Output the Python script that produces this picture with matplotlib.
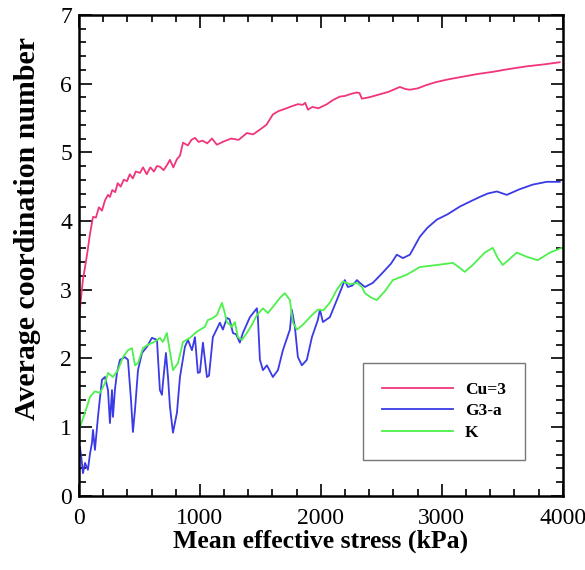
import numpy as np
import matplotlib.pyplot as plt
from matplotlib.ticker import MultipleLocator

# Cu=3 (pink)
cu_x = [0, 15, 33, 50, 70, 90, 116, 140, 165, 190, 215, 240, 256, 275, 300, 320, 345, 370, 397,
        420, 445, 470, 504, 530, 560, 590, 620, 645, 669, 700, 730, 752, 780, 810, 835, 860,
        900, 930, 959, 990, 1020, 1060, 1100, 1140, 1200, 1260, 1320, 1388, 1440, 1496, 1550,
        1603, 1650, 1700, 1760, 1810, 1851, 1870, 1893, 1930, 1980, 2050, 2100, 2157, 2200,
        2250, 2298, 2320, 2339, 2400, 2480, 2560, 2653, 2700, 2736, 2800, 2876, 2950, 3050,
        3174, 3300, 3421, 3550, 3700, 3850, 3975]
cu_y = [2.55, 2.85, 3.15, 3.33, 3.55, 3.8, 4.06, 4.05, 4.2, 4.15, 4.3, 4.38, 4.35, 4.45, 4.42,
        4.55, 4.5, 4.6, 4.58, 4.68, 4.62, 4.72, 4.7, 4.78, 4.68, 4.78, 4.72, 4.8, 4.79, 4.74,
        4.82, 4.89, 4.78, 4.9, 4.95, 5.14, 5.1, 5.18, 5.21, 5.15, 5.17, 5.13, 5.2, 5.11, 5.16,
        5.2, 5.18, 5.28, 5.26, 5.33, 5.4, 5.55, 5.6, 5.63, 5.67, 5.7, 5.69, 5.72, 5.62, 5.66,
        5.64, 5.7, 5.76, 5.81, 5.82, 5.85, 5.87, 5.86, 5.78, 5.8, 5.84, 5.88, 5.95, 5.92, 5.91,
        5.93, 5.98, 6.02, 6.06, 6.1, 6.14, 6.17, 6.21, 6.25, 6.28, 6.31]

# G3-a (blue)
g3_x = [8, 20, 33, 50, 74, 90, 107, 116, 132, 157, 175, 190, 215, 240, 256, 273, 281, 297, 314,
        339, 380, 405, 430, 446, 463, 488, 521, 562, 603, 645, 653, 669, 686, 694, 719, 736,
        752, 777, 810, 835, 876, 901, 934, 959, 983, 1000, 1025, 1058, 1075, 1107, 1165, 1190,
        1223, 1245, 1273, 1300, 1330, 1355, 1413, 1471, 1479, 1496, 1521, 1554, 1603, 1645,
        1686, 1744, 1760, 1785, 1810, 1843, 1884, 1926, 1975, 1992, 2017, 2074, 2132, 2198,
        2223, 2260, 2298, 2322, 2364, 2430, 2512, 2580, 2628, 2678, 2736, 2818, 2880, 2959,
        3050, 3149, 3230, 3314, 3380, 3455, 3537, 3640, 3752, 3868, 3975]
g3_y = [0.71, 0.55, 0.33, 0.48, 0.38, 0.6, 0.77, 0.96, 0.67, 1.15, 1.45, 1.69, 1.73, 1.54, 1.06,
        1.54, 1.15, 1.54, 1.79, 1.98, 2.02, 1.98, 1.4, 0.93, 1.25, 1.83, 2.08, 2.17, 2.3, 2.27,
        2.02, 1.54, 1.47, 1.64, 2.08, 1.73, 1.3, 0.92, 1.21, 1.73, 2.17, 2.27, 2.12, 2.31, 1.79,
        1.8, 2.23, 1.73, 1.75, 2.31, 2.52, 2.42, 2.59, 2.57, 2.37, 2.35, 2.23, 2.37, 2.6, 2.73,
        2.6, 1.98, 1.83, 1.9, 1.73, 1.83, 2.12, 2.42, 2.71, 2.46, 2.02, 1.9, 1.98, 2.31, 2.56,
        2.71, 2.53, 2.6, 2.85, 3.14, 3.04, 3.06, 3.14, 3.1, 3.04, 3.1, 3.25, 3.38, 3.51, 3.46,
        3.51, 3.77, 3.9, 4.02, 4.1, 4.21, 4.28, 4.35, 4.4, 4.43, 4.38, 4.46, 4.53, 4.57, 4.57]

# K (green)
k_x = [8, 50, 91, 130, 174, 215, 240, 281, 322, 364, 405, 438, 463, 488, 529, 570, 611, 640, 669,
       694, 727, 752, 777, 818, 860, 917, 975, 1041, 1066, 1100, 1140, 1182, 1200, 1223, 1264,
       1289, 1314, 1347, 1388, 1430, 1471, 1521, 1562, 1603, 1661, 1702, 1744, 1769, 1802, 1851,
       1926, 1975, 2020, 2074, 2132, 2182, 2240, 2298, 2339, 2364, 2421, 2463, 2530, 2595, 2711,
       2818, 2959, 3091, 3132, 3190, 3256, 3355, 3421, 3463, 3504, 3620, 3702, 3793, 3893, 3992]
k_y = [1.0, 1.21, 1.44, 1.52, 1.5, 1.64, 1.79, 1.73, 1.83, 2.02, 2.12, 2.15, 1.9, 1.93, 2.15,
       2.2, 2.23, 2.26, 2.3, 2.24, 2.37, 2.1, 1.83, 1.93, 2.24, 2.3, 2.39, 2.46, 2.56, 2.58,
       2.63, 2.81, 2.7, 2.53, 2.46, 2.53, 2.31, 2.27, 2.37, 2.49, 2.63, 2.73, 2.66, 2.75, 2.88,
       2.95, 2.85, 2.52, 2.42, 2.49, 2.63, 2.71, 2.7, 2.81, 3.0, 3.12, 3.08, 3.1, 3.04, 2.95,
       2.88, 2.85, 2.98, 3.14, 3.22, 3.33, 3.36, 3.39, 3.34, 3.26, 3.36, 3.54, 3.61, 3.46, 3.36,
       3.54, 3.48, 3.43, 3.54, 3.61]

plt.rcParams['font.family'] = ['Liberation Serif', 'DejaVu Serif']

fig = plt.figure(figsize=(5.85, 5.7), dpi=100)
ax = fig.add_axes([0.135, 0.13, 0.827, 0.844])

ax.plot(cu_x, cu_y, color='#f0357c', lw=1.3, label='Cu=3')
ax.plot(g3_x, g3_y, color='#3a3ae6', lw=1.3, label='G3-a')
ax.plot(k_x, k_y, color='#4df04d', lw=1.3, label='K')

ax.set_xlim(0, 4000)
ax.set_ylim(0, 7)
ax.xaxis.set_major_locator(MultipleLocator(1000))
ax.xaxis.set_minor_locator(MultipleLocator(200))
ax.yaxis.set_major_locator(MultipleLocator(1))
ax.yaxis.set_minor_locator(MultipleLocator(0.2))
ax.tick_params(which='both', direction='in', top=True, right=True, width=1.2, labelsize=17)
ax.tick_params(which='major', length=9)
ax.tick_params(which='minor', length=5)
ax.tick_params(axis='x', pad=9)
ax.tick_params(axis='y', pad=5)
for s in ax.spines.values():
    s.set_linewidth(1.8)

ax.set_xlabel('Mean effective stress (kPa)', fontsize=18.5, fontweight='bold', labelpad=0)
ax.set_ylabel('Average coordination number', fontsize=21.5, fontweight='bold')
ax.yaxis.set_label_coords(-0.078, 0.555)

leg = ax.legend(loc='lower right', bbox_to_anchor=(0.922, 0.075), fancybox=False,
                edgecolor='#555555', handlelength=4.1, handletextpad=0.7, labelspacing=0.3,
                borderpad=1.1, borderaxespad=0, prop={'weight': 'bold', 'size': 12.5})
leg.get_frame().set_linewidth(1.0)

fig.savefig('out.png', dpi=100)
